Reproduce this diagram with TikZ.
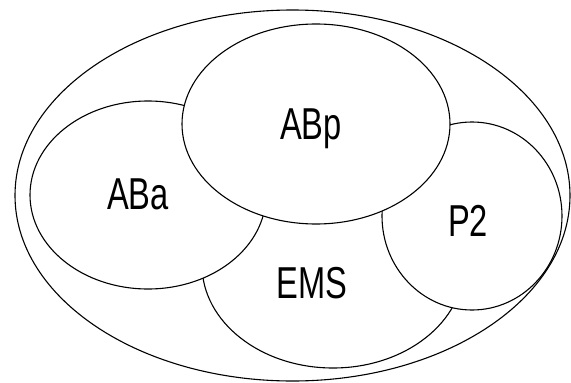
\documentclass[tikz,border=0pt]{standalone}
\usepackage{fontspec}
\newfontfamily\setfont[FakeStretch=0.73]{Liberation Sans}
\usepackage{tikz}

\begin{document}
\begin{tikzpicture}[x=1pt,y=-1pt,line width=1.1pt]

	\useasboundingbox (0,0) rectangle (571,383);

	% Draw the EMS set first, the others lie on top of it
	\filldraw[fill=white] (333,265) ellipse [x radius=131, y radius=103];

	% Draw the ABa set
	\filldraw[fill=white] (148,195) ellipse [x radius=118, y radius=94];

	% Draw the P2 set
	\filldraw[fill=white] (472,216) ellipse [x radius=90, y radius=94];

	% Draw the ABp set on top
	\filldraw[fill=white] (316,124) ellipse [x radius=134, y radius=100];

	% Draw the outer set round all of them
	\draw (292.5,195.5) ellipse [x radius=277.5, y radius=185.5];

	% Add the names of the sets
	\node[anchor=base,font=\setfont\fontsize{44.7}{50}\selectfont] (aba) at (138,209) {ABa};
	\node[anchor=base,font=\setfont\fontsize{44.7}{50}\selectfont] (abp) at (311,139) {ABp};
	\node[anchor=base,font=\setfont\fontsize{44.7}{50}\selectfont] (ems) at (312,298) {EMS};
	\node[anchor=base,font=\setfont\fontsize{44.7}{50}\selectfont] (ptwo) at (468,236) {P2};

\end{tikzpicture}
\end{document}
